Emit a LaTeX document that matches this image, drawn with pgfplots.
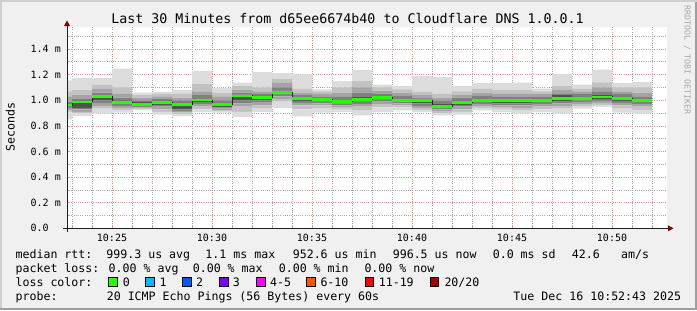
\documentclass[border=0pt]{standalone}
\usepackage{pgfplots}
\pgfplotsset{compat=1.18}
\usepackage{pgfplotstable}
\usepackage{fontspec}
\setmainfont{DejaVu Sans Mono}
\definecolor{bg}{HTML}{F0F0F0}
\definecolor{shadeA}{HTML}{CFCFCF}
\definecolor{shadeB}{HTML}{9E9E9E}
\definecolor{gridc}{HTML}{ABABAB}
\definecolor{mgridc}{HTML}{EE8C8C}
\definecolor{axisc}{HTML}{1F1F1F}
\definecolor{arrowc}{HTML}{800000}
\definecolor{wmc}{HTML}{A8A8A8}
\definecolor{sA}{HTML}{DCDCDC}
\definecolor{sB}{HTML}{C2C2C2}
\definecolor{sC}{HTML}{A4A4A4}
\definecolor{sD}{HTML}{808080}
\definecolor{sE}{HTML}{505050}
\definecolor{medc}{HTML}{202020}
\definecolor{l0}{HTML}{26FF00}
\definecolor{l1}{HTML}{00B8FF}
\definecolor{l2}{HTML}{0059FF}
\definecolor{l3}{HTML}{7E00FF}
\definecolor{l4}{HTML}{FF00FF}
\definecolor{l5}{HTML}{FF5500}
\definecolor{l6}{HTML}{FF0000}
\definecolor{l7}{HTML}{A10000}

\pgfplotstableread{
x     min   p3    p5    p7    p9    med   p12   p14   p16   p18   max
22.75 0.851 0.905 0.925 0.940 0.950 0.962 0.975 0.990 1.030 1.070 1.156
23    0.877 0.900 0.910 0.930 0.940 0.987 0.995 1.010 1.040 1.080 1.174
24    0.895 0.935 0.955 0.980 1.000 1.031 1.040 1.060 1.090 1.120 1.174
25    0.903 0.925 0.940 0.955 0.970 0.984 1.000 1.020 1.050 1.100 1.247
26    0.922 0.930 0.940 0.945 0.955 0.969 0.985 1.000 1.020 1.040 1.059
27    0.888 0.910 0.930 0.950 0.965 0.984 0.995 1.010 1.030 1.050 1.065
28    0.877 0.890 0.905 0.915 0.930 0.969 0.980 1.000 1.020 1.050 1.080
29    0.908 0.930 0.950 0.970 0.985 1.001 1.010 1.040 1.070 1.130 1.229
30    0.903 0.915 0.925 0.935 0.945 0.966 0.975 1.000 1.030 1.060 1.096
31    0.870 0.910 0.950 0.975 1.000 1.034 1.045 1.060 1.080 1.110 1.138
32    0.908 0.935 0.960 0.985 1.000 1.023 1.035 1.050 1.070 1.100 1.221
33    0.940 0.990 1.010 1.030 1.045 1.062 1.075 1.100 1.140 1.170 1.213
34    0.875 0.930 0.960 0.980 0.995 1.016 1.025 1.040 1.060 1.090 1.203
35    0.903 0.940 0.960 0.975 0.990 1.008 1.015 1.030 1.050 1.070 1.086
36    0.908 0.930 0.945 0.960 0.975 0.989 1.000 1.030 1.060 1.100 1.150
37    0.883 0.920 0.950 0.970 0.990 1.007 1.025 1.060 1.100 1.150 1.236
38    0.908 0.945 0.970 0.990 1.005 1.023 1.035 1.055 1.075 1.100 1.122
39    0.922 0.945 0.960 0.975 0.990 1.000 1.010 1.035 1.060 1.085 1.111
40    0.908 0.925 0.940 0.955 0.975 1.000 1.008 1.020 1.040 1.065 1.190
41    0.883 0.900 0.915 0.930 0.940 0.953 0.970 0.995 1.020 1.050 1.182
42    0.888 0.910 0.930 0.950 0.965 0.983 0.995 1.020 1.040 1.070 1.111
43    0.922 0.940 0.955 0.970 0.985 1.000 1.010 1.035 1.060 1.090 1.135
44    0.908 0.930 0.945 0.960 0.975 1.000 1.010 1.030 1.050 1.080 1.135
45    0.895 0.920 0.940 0.960 0.975 1.000 1.008 1.025 1.050 1.080 1.138
46    0.908 0.930 0.950 0.970 0.985 1.000 1.012 1.030 1.050 1.070 1.091
47    0.895 0.935 0.955 0.975 0.990 1.015 1.040 1.055 1.080 1.110 1.205
48    0.935 0.955 0.970 0.985 1.000 1.015 1.030 1.050 1.070 1.090 1.122
49    0.948 0.965 0.980 0.995 1.010 1.026 1.040 1.070 1.100 1.140 1.240
50    0.903 0.935 0.960 0.980 0.995 1.015 1.030 1.050 1.070 1.100 1.135
51    0.895 0.925 0.950 0.970 0.985 0.997 1.010 1.030 1.060 1.100 1.143
52    0.895 0.925 0.950 0.970 0.985 0.997 1.010 1.030 1.060 1.100 1.143
}\smoke

\newcommand{\lf}{\fontsize{11.6bp}{13bp}\selectfont}
\pgfplotsset{
  rrd/.style={
    at={(67bp,81.7bp)}, anchor=south west,
    scale only axis, width=600bp, height=201bp,
    xmin=22.75, xmax=52.75, ymin=0, ymax=1.5703,
    no markers,
  },
  lay/.style={draw=none, fill=#1, const plot mark left},
}

\begin{document}
\begin{tikzpicture}
\begin{scope}[x=1bp,y=1bp]
\useasboundingbox (0,0) rectangle (697,310);
\fill[bg] (0,0) rectangle (697,310);
\fill[shadeA] (0,308) rectangle (697,310);
\fill[shadeA] (0,0) rectangle (2,310);
\fill[shadeB] (0,0) rectangle (697,2);
\fill[shadeB] (695,0) rectangle (697,308);
\fill[white] (67,81.7) rectangle (667,282.7);
\end{scope}

\begin{axis}[rrd,
  stack plots=y,
  axis lines*=left, axis line style={draw=none},
  xtick={25,30,35,40,45,50},
  xticklabels={10:25,10:30,10:35,10:40,10:45,10:50},
  minor xtick={23,24,...,52},
  ytick={0,0.2,0.4,0.6,0.8,1.0,1.2,1.4},
  yticklabels={0.0,0.2 m,0.4 m,0.6 m,0.8 m,1.0 m,1.2 m,1.4 m},
  minor ytick={0.1,0.3,0.5,0.7,0.9,1.1,1.3,1.5},
  grid=both,
  major grid style={draw=mgridc, dash pattern=on 1bp off 1.2bp, line width=0.8bp},
  minor grid style={draw=gridc, dash pattern=on 1bp off 1.2bp, line width=0.8bp},
  tick align=inside, major tick length=3bp, minor tick length=2bp,
  major tick style={draw=mgridc, solid, line width=0.8bp},
  minor tick style={draw=gridc, solid, line width=0.8bp},
  tick label style={font=\fontsize{10bp}{12bp}\selectfont, inner sep=0pt},
  xticklabel style={anchor=base, yshift=-13bp},
  yticklabel style={anchor=base west, xshift=-36.5bp, yshift=-3.6bp},
]
\addplot[draw=none, const plot mark left] table[x=x,y=min]{\smoke};
\addplot[lay=sA] table[x=x,y expr=\thisrow{p3}-\thisrow{min}]{\smoke} \closedcycle;
\addplot[lay=sB] table[x=x,y expr=\thisrow{p5}-\thisrow{p3}]{\smoke} \closedcycle;
\addplot[lay=sC] table[x=x,y expr=\thisrow{p7}-\thisrow{p5}]{\smoke} \closedcycle;
\addplot[lay=sD] table[x=x,y expr=\thisrow{p9}-\thisrow{p7}]{\smoke} \closedcycle;
\addplot[lay=sE] table[x=x,y expr=\thisrow{p12}-\thisrow{p9}]{\smoke} \closedcycle;
\addplot[lay=sD] table[x=x,y expr=\thisrow{p14}-\thisrow{p12}]{\smoke} \closedcycle;
\addplot[lay=sC] table[x=x,y expr=\thisrow{p16}-\thisrow{p14}]{\smoke} \closedcycle;
\addplot[lay=sB] table[x=x,y expr=\thisrow{p18}-\thisrow{p16}]{\smoke} \closedcycle;
\addplot[lay=sA] table[x=x,y expr=\thisrow{max}-\thisrow{p18}]{\smoke} \closedcycle;
\end{axis}

\begin{axis}[rrd, hide axis]
\addplot[color=medc, line width=1bp, const plot mark left] table[x=x,y=med]{\smoke};
\addplot[color=l0, line width=2.6bp, jump mark left] table[x=x,y=med]{\smoke};
\end{axis}

\begin{scope}[x=1bp,y=1bp]
% axes
\draw[axisc, line width=1bp] (63,81.7) -- (668.5,81.7);
\fill[arrowc] (668,78.7) -- (673.5,81.7) -- (668,84.7) -- cycle;
\draw[axisc, line width=1bp] (67,77.7) -- (67,284.5);
\fill[arrowc] (64,284) -- (67,289.5) -- (70,284) -- cycle;
% title
\node[anchor=base, inner sep=0, font=\fontsize{13.3bp}{15bp}\selectfont] at (347.5,286.1) {Last 30 Minutes from d65ee6674b40 to Cloudflare DNS 1.0.0.1};
% y label
\node[rotate=90, inner sep=0, font=\lf] at (10.3,182.7) {Seconds};
% watermark
\node[rotate=-90, inner sep=0, text=wmc, font=\fontsize{8.3bp}{9bp}\selectfont] at (687.3,250) {RRDTOOL / TOBI OETIKER};
% legend line 1
\begin{scope}[every node/.style={anchor=base west, inner sep=0, font=\lf}]
\node at (15.4,51.8) {median rtt:\ \ 999.3 us avg};
\node at (205.2,51.8) {1.1 ms max};
\node at (292.6,51.8) {952.6 us min};
\node at (392.6,51.8) {996.5 us now};
\node at (492.6,51.8) {0.0 ms sd};
\node at (571.6,51.8) {42.6};
\node at (621.0,51.8) {am/s};
% line 2
\node at (15.4,37.9) {packet loss: 0.00 \% avg};
\node at (192.6,37.9) {0.00 \% max};
\node at (278.6,37.9) {0.00 \% min};
\node at (364.3,37.9) {0.00 \% now};
% line 3
\node at (15.4,24.0) {loss color:};
\node at (122.6,24.0) {0};
\node at (159.3,24.0) {1};
\node at (196.0,24.0) {2};
\node at (232.6,24.0) {3};
\node at (270.0,24.0) {4-5};
\node at (320.3,24.0) {6-10};
\node at (378.6,24.0) {11-19};
\node at (444.3,24.0) {20/20};
% line 4
\node at (15.4,10.0) {probe:};
\node at (106.6,10.0) {20 ICMP Echo Pings (56 Bytes) every 60s};
\node[anchor=base east] at (681.3,10.0) {Tue Dec 16 10:52:43 2025};
\end{scope}
% loss color boxes
\foreach \bx/\c in {108.4/l0,145.7/l1,182.7/l2,219.3/l3,256.3/l4,306.7/l5,365.0/l6,430.0/l7}{
  \filldraw[fill=\c, draw=black, line width=0.8bp] (\bx,23.8) rectangle ++(8.6,8.7);
}
\end{scope}
\end{tikzpicture}
\end{document}
